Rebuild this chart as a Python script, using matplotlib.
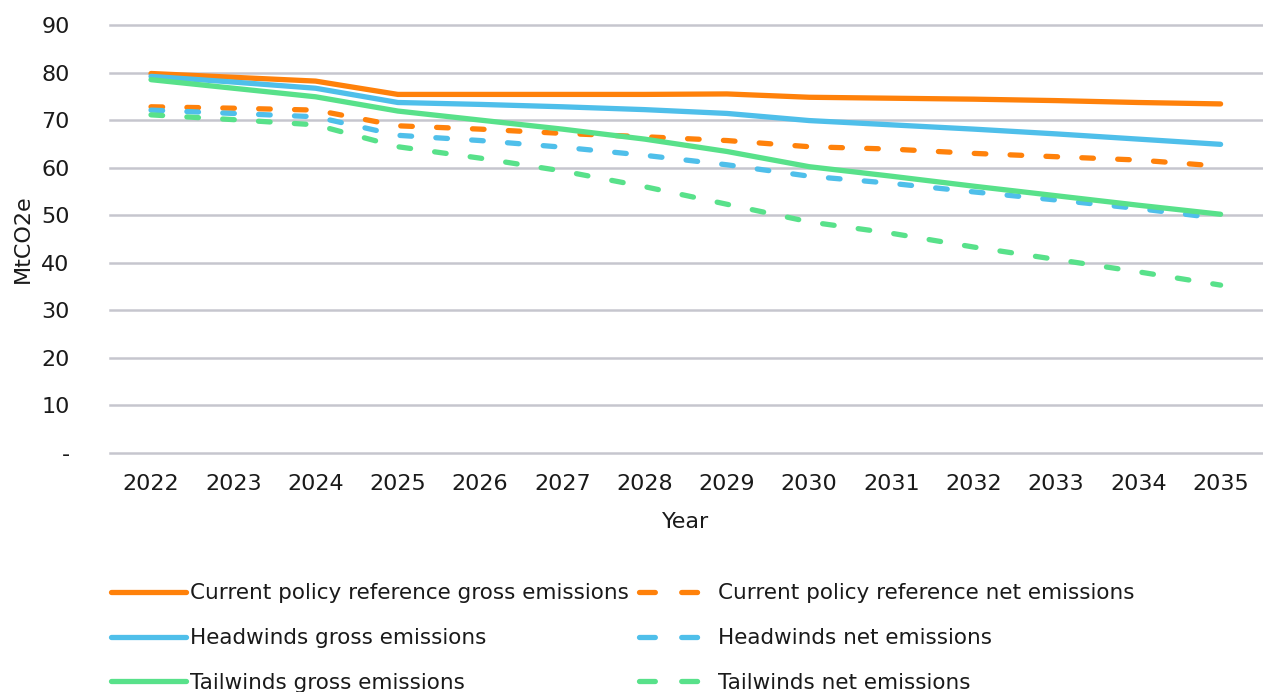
import matplotlib
matplotlib.use("Agg")
import matplotlib.pyplot as plt
from matplotlib.lines import Line2D
from matplotlib.ticker import FixedLocator, FuncFormatter

years = [2022, 2023, 2024, 2025, 2026, 2027, 2028, 2029, 2030, 2031, 2032, 2033, 2034, 2035]

cp_gross = [79.8, 79.0, 78.2, 75.4, 75.4, 75.4, 75.4, 75.5, 74.8, 74.6, 74.4, 74.1, 73.7, 73.4]
cp_net = [72.8, 72.5, 72.1, 68.8, 68.1, 67.2, 66.5, 65.7, 64.4, 63.9, 63.0, 62.3, 61.6, 60.3]
hw_gross = [79.2, 78.0, 76.7, 73.7, 73.3, 72.8, 72.2, 71.4, 69.9, 69.0, 68.1, 67.1, 66.0, 64.9]
hw_net = [72.1, 71.4, 70.7, 66.8, 65.7, 64.3, 62.6, 60.6, 58.2, 56.7, 54.9, 53.2, 51.4, 49.3]
tw_gross = [78.5, 76.7, 74.9, 71.9, 70.0, 68.1, 66.0, 63.4, 60.2, 58.2, 56.1, 54.1, 52.1, 50.2]
tw_net = [71.1, 70.1, 69.0, 64.4, 62.0, 59.3, 56.0, 52.3, 48.6, 46.2, 43.3, 40.7, 38.1, 35.3]

labels = [
    "Current policy reference gross emissions",
    "Current policy reference net emissions",
    "Headwinds gross emissions",
    "Headwinds net emissions",
    "Tailwinds gross emissions",
    "Tailwinds net emissions",
]

ORANGE = "#FF810A"
BLUE = "#4FBFEA"
GREEN = "#58E18A"
TXT = '#1a1a1a'

plt.rcParams['font.family'] = ['DejaVu Sans']

fig = plt.figure(figsize=(12.63, 6.92), dpi=100)
ax = fig.add_axes([0.087, 0.3454, 0.912, 0.6185])

x = list(range(len(years)))
lw = 3.8
series = [
    (cp_gross, ORANGE, '-'), (cp_net, ORANGE, '--'),
    (hw_gross, BLUE, '-'), (hw_net, BLUE, '--'),
    (tw_gross, GREEN, '-'), (tw_net, GREEN, '--'),
]
proxies = {}
for (vals, col, ls), lab in zip(series, labels):
    if ls == '-':
        ax.plot(x, vals, color=col, lw=lw, solid_capstyle='round',
                solid_joinstyle='round', zorder=3)
        proxies[lab] = Line2D([], [], color=col, lw=lw, solid_capstyle='round')
    else:
        ax.plot(x, vals, color=col, lw=lw, linestyle=(0, (2.2, 4.6)),
                dash_capstyle='round', zorder=3)
        proxies[lab] = Line2D([], [], color=col, lw=lw, linestyle=(0, (3.0, 5.0)),
                              dash_capstyle='round')

ax.set_xlim(-0.5, len(years) - 0.5)
ax.set_ylim(0, 90)
ax.yaxis.set_major_locator(FixedLocator(list(range(0, 91, 10))))
ax.yaxis.set_major_formatter(FuncFormatter(lambda v, p: "-" if v == 0 else f"{int(v)}"))
ax.set_xticks(x)
ax.set_xticklabels([str(y) for y in years])
ax.grid(axis='y', color='#C6C6CE', lw=1.8, zorder=0)
ax.set_axisbelow(True)
for gl in ax.get_ygridlines():
    gl.set_clip_on(False)
for s in ax.spines.values():
    s.set_visible(False)
ax.tick_params(axis='both', length=0, labelsize=16, colors=TXT)
ax.tick_params(axis='y', pad=29)
ax.tick_params(axis='x', pad=15)
ax.set_ylabel("MtCO2e", fontsize=16, labelpad=6, color=TXT)
ax.set_xlabel("Year", fontsize=16, labelpad=13, color=TXT)

col1 = [labels[0], labels[2], labels[4]]
col2 = [labels[1], labels[3], labels[5]]
ordered = col1 + col2
leg = fig.legend([proxies[l] for l in ordered], ordered, loc='upper left',
                 bbox_to_anchor=(0.088, 0.157), bbox_transform=fig.transFigure,
                 ncol=2, frameon=False, fontsize=15.5, handlelength=3.5,
                 handletextpad=0.15, columnspacing=0.5, labelspacing=1.15,
                 borderaxespad=0, borderpad=0)
for t in leg.get_texts():
    t.set_color(TXT)

fig.savefig("out.png", dpi=100)
